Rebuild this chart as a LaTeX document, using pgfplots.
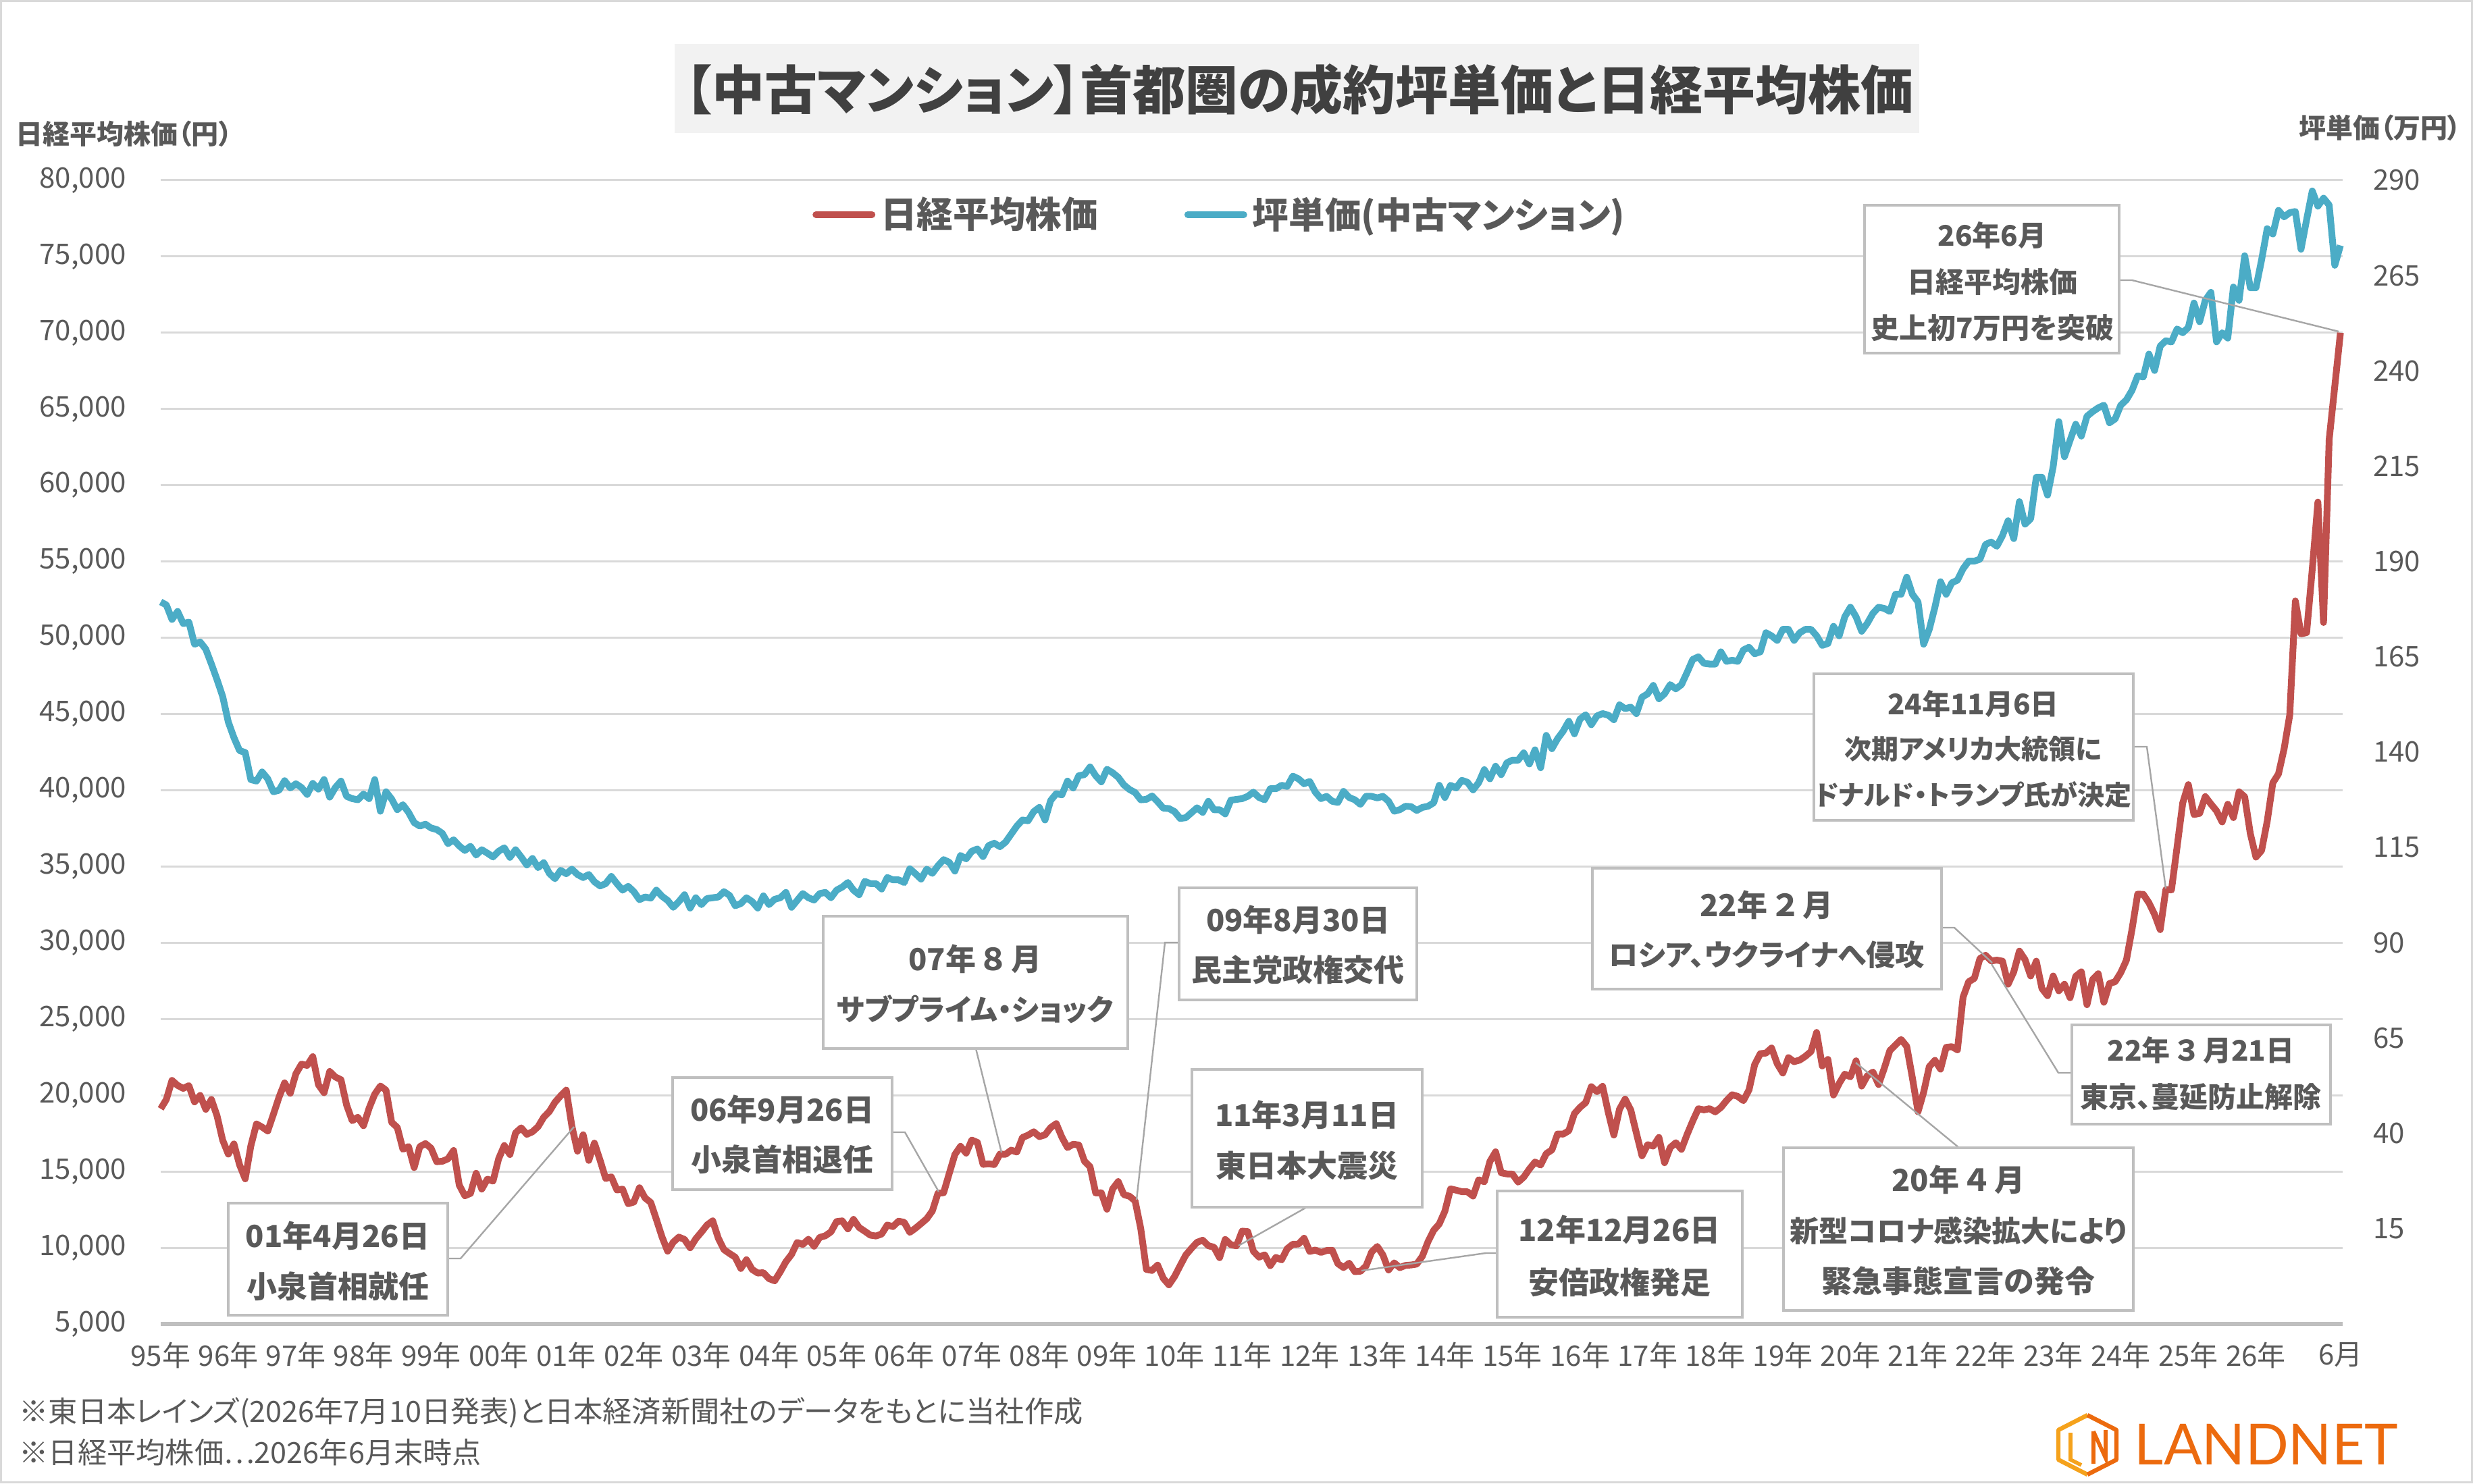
\documentclass[border=0pt]{standalone}
\usepackage{fontspec}
\setmainfont{Noto Sans CJK JP}[RawFeature=+palt]
\newfontfamily\logofont{Lato}
\usepackage{pgfplots}
\pgfplotsset{compat=1.18}
\usepackage{pgfplotstable}
\definecolor{nred}{HTML}{C0504D}
\definecolor{nblue}{HTML}{4BACC6}
\definecolor{txt}{HTML}{595959}
\definecolor{gridc}{HTML}{D9D9D9}
\definecolor{axisgray}{HTML}{BFBFBF}
\definecolor{ttl}{HTML}{404040}
\definecolor{titlebg}{HTML}{F2F2F2}
\definecolor{lead}{HTML}{A6A6A6}
\definecolor{logoorange}{HTML}{EC6A0E}
\definecolor{logoyellow}{HTML}{F5A21C}

% Nikkei month-end closes, index 0 .. 387
\pgfplotstableread[row sep=crcr]{v\\
19112\\19725\\20974\\20644\\20449\\20629\\19564\\19990\\19076\\19723\\
18650\\17053\\16140\\16807\\15437\\14517\\16678\\18117\\17913\\17655\\18744\\19868\\
20813\\20125\\21407\\22041\\21956\\22531\\20693\\20167\\21556\\21197\\21020\\19361\\
18330\\18557\\18003\\19151\\20069\\20605\\20331\\18229\\17888\\16459\\16636\\15259\\
16628\\16831\\16527\\15641\\15671\\15830\\16379\\14108\\13406\\13564\\14884\\13842\\
14499\\14368\\15837\\16702\\16112\\17530\\17862\\17437\\17605\\17942\\18558\\18934\\
19540\\19960\\20337\\17974\\16332\\17411\\15727\\16861\\15747\\14540\\14649\\13786\\
13844\\12884\\12999\\13934\\13262\\12969\\11861\\10714\\9775\\10367\\10697\\10543\\
9998\\10588\\11025\\11493\\11764\\10622\\9878\\9619\\9383\\8640\\9216\\8579\\
8340\\8363\\7973\\7831\\8425\\9083\\9563\\10344\\10219\\10560\\10101\\10677\\
10784\\11042\\11715\\11762\\11236\\11859\\11326\\11082\\10824\\10771\\10899\\11489\\
11388\\11741\\11669\\11009\\11277\\11584\\11900\\12414\\13574\\13607\\14872\\16111\\
16650\\16205\\17060\\16906\\15467\\15505\\15457\\16141\\16128\\16399\\16274\\17226\\
17383\\17604\\17288\\17400\\17876\\18138\\17249\\16569\\16786\\16738\\15681\\15308\\
13592\\13603\\12526\\13850\\14339\\13482\\13377\\13073\\11260\\8577\\8512\\8860\\
7994\\7568\\8110\\8828\\9523\\9958\\10357\\10493\\10133\\10035\\9346\\10546\\
10198\\10126\\11090\\11057\\9769\\9383\\9537\\8824\\9369\\9202\\9937\\10229\\
10238\\10624\\9755\\9850\\9694\\9816\\9833\\8955\\8700\\8988\\8435\\8455\\
8803\\9723\\10084\\9521\\8543\\9007\\8695\\8840\\8870\\8928\\9446\\10395\\
11139\\11559\\12398\\13861\\13775\\13677\\13668\\13389\\14456\\14328\\15662\\16291\\
14915\\14841\\14828\\14304\\14632\\15162\\15621\\15425\\16174\\16414\\17460\\17451\\
17674\\18798\\19207\\19520\\20563\\20236\\20585\\18890\\17388\\19083\\19747\\19034\\
17518\\16027\\16759\\16666\\17235\\15576\\16569\\16887\\16450\\17425\\18308\\19114\\
19041\\19119\\18909\\19197\\19651\\20033\\19925\\19646\\20356\\22012\\22725\\22765\\
23098\\22068\\21454\\22468\\22202\\22305\\22554\\22865\\24120\\21920\\22351\\20015\\
20773\\21385\\21206\\22259\\20601\\21276\\21522\\20704\\21756\\22927\\23294\\23657\\
23205\\21143\\18917\\20194\\21878\\22288\\21710\\23140\\23185\\22977\\26434\\27444\\
27663\\28966\\29179\\28813\\28860\\28792\\27284\\28090\\29453\\28893\\27822\\28792\\
27002\\26527\\27821\\26848\\27280\\26393\\27802\\28092\\25937\\27587\\27969\\26095\\
27327\\27446\\28041\\28856\\30888\\33189\\33172\\32619\\31858\\30859\\33487\\33464\\
36287\\39166\\40369\\38406\\38488\\39583\\39102\\38648\\37920\\39081\\38208\\39895\\
39572\\37156\\35618\\36045\\37965\\40487\\41070\\42718\\44933\\52411\\50254\\50339\\
54500\\58900\\51000\\63000\\66500\\70000\\
}\nikkei

% price per tsubo (10,000 yen), index 0 .. 387
\pgfplotstableread[row sep=crcr]{v\\
179.4\\178.6\\174.8\\176.9\\173.7\\174.1\\168.3\\168.9\\167.0\\163.1\\
159.0\\154.6\\147.9\\143.8\\140.4\\139.9\\132.8\\132.4\\134.8\\133.0\\
129.6\\130.0\\132.5\\130.6\\131.7\\130.7\\128.9\\131.8\\130.3\\132.8\\
128.2\\130.7\\132.4\\128.4\\127.8\\127.5\\129.0\\127.8\\132.8\\124.5\\
129.6\\127.7\\124.9\\126.2\\124.2\\121.5\\120.6\\121.1\\120.1\\119.7\\
118.7\\116.0\\117.0\\115.4\\114.2\\115.3\\113.0\\114.4\\113.5\\112.5\\
114.0\\114.9\\112.4\\114.4\\112.5\\110.4\\112.1\\109.7\\111.0\\108.2\\
106.8\\109.0\\108.1\\109.3\\107.9\\107.1\\107.9\\106.0\\104.9\\105.5\\
107.4\\105.5\\103.8\\104.8\\103.4\\101.3\\102.0\\101.7\\103.8\\102.2\\
101.1\\99.3\\
100.8\\102.6\\99.1\\101.8\\100.0\\101.6\\101.8\\102.0\\103.4\\102.4\\
99.7\\100.3\\101.8\\100.8\\99.1\\102.3\\100.0\\101.4\\101.8\\103.2\\
99.3\\101.1\\102.9\\101.8\\101.2\\102.9\\103.2\\101.8\\103.8\\104.6\\
105.8\\103.8\\102.6\\106.1\\105.5\\105.5\\104.1\\107.1\\106.5\\106.5\\
105.8\\109.4\\108.1\\106.7\\109.3\\108.2\\110.2\\111.8\\111.1\\108.8\\
112.9\\112.0\\114.0\\114.6\\112.6\\115.5\\116.1\\115.2\\116.4\\118.5\\
120.6\\122.2\\122.0\\124.4\\125.5\\122.2\\127.3\\129.1\\128.8\\132.4\\
130.6\\133.8\\134.1\\136.1\\133.8\\132.2\\135.5\\134.6\\133.4\\131.4\\
130.2\\129.4\\127.5\\127.6\\128.5\\127.0\\125.3\\125.2\\124.4\\122.6\\
122.8\\124.1\\125.4\\124.2\\127.1\\124.9\\124.9\\123.8\\127.4\\127.6\\
127.8\\128.4\\129.5\\128.1\\127.5\\130.4\\130.4\\131.3\\131.0\\133.7\\
133.0\\131.7\\132.3\\129.5\\127.8\\128.4\\127.1\\126.8\\129.7\\128.1\\
127.5\\126.3\\128.4\\128.4\\128.0\\128.4\\127.1\\124.5\\124.9\\125.8\\
125.7\\124.7\\125.5\\125.8\\126.7\\131.3\\128.1\\131.3\\130.6\\132.6\\
132.1\\130.1\\132.0\\135.4\\133.0\\136.3\\134.1\\137.2\\137.9\\137.9\\
139.8\\136.9\\140.6\\135.9\\144.4\\140.9\\143.5\\145.5\\148.1\\144.8\\
148.7\\149.8\\147.2\\149.5\\150.1\\149.7\\148.5\\152.4\\151.4\\151.8\\
150.1\\154.4\\155.3\\157.5\\154.0\\155.3\\157.7\\156.6\\157.7\\
160.9\\164.3\\165.0\\163.3\\163.1\\163.1\\166.3\\163.8\\164.1\\163.8\\
166.8\\167.5\\165.8\\166.3\\171.3\\170.5\\169.3\\172.2\\172.2\\169.3\\
171.3\\172.2\\172.2\\170.5\\168.0\\168.5\\173.0\\170.5\\175.5\\178.0\\
175.5\\171.7\\173.8\\176.4\\178.0\\177.7\\176.9\\181.4\\181.4\\185.9\\
181.4\\179.4\\168.3\\172.2\\178.0\\184.7\\181.4\\184.4\\185.1\\188.1\\
190.1\\190.1\\190.6\\194.5\\195.1\\194.0\\196.8\\200.7\\196.0\\205.7\\
199.8\\201.2\\212.1\\212.1\\207.4\\214.9\\
226.7\\217.5\\221.8\\226.0\\222.9\\228.1\\229.3\\230.3\\231.0\\226.4\\
227.4\\231.0\\232.4\\234.9\\238.7\\238.4\\244.4\\240.1\\246.5\\247.9\\
247.6\\251.0\\250.0\\251.4\\257.8\\252.9\\258.5\\260.6\\247.6\\250.0\\
248.6\\262.0\\258.5\\270.2\\261.8\\261.8\\269.1\\277.3\\275.9\\282.1\\
280.4\\281.5\\281.8\\271.9\\279.7\\287.2\\283.2\\285.3\\283.5\\267.7\\
272.9\\
}\tsubo

\tikzset{
  anno/.style={font=\fontsize{11.25}{13}\selectfont\bfseries, text=txt, inner sep=0pt},
  annok/.style={font=\fontsize{10.8}{13}\selectfont\bfseries, text=txt, inner sep=0pt},
  annos/.style={font=\fontsize{10.5}{12}\selectfont\bfseries, text=txt, inner sep=0pt},
  annoxs/.style={font=\fontsize{10}{12}\selectfont\bfseries, text=txt, inner sep=0pt},
  leader/.style={draw=lead, line width=0.6pt},
  abox/.style={draw=axisgray, line width=0.8pt, fill=white},
}

\begin{document}
\begin{tikzpicture}
\path[use as bounding box] (0pt,0pt) rectangle (915.5pt,549.25pt);
\fill[white] (0pt,0pt) rectangle (915.5pt,549.25pt);

\begin{axis}[
  at={(59.5pt,59pt)}, anchor=south west,
  scale only axis, width=807.75pt, height=423.5pt,
  xmin=0, xmax=387.4, ymin=5000, ymax=80000,
  clip=false,
  axis x line*=bottom, axis y line*=left,
  x axis line style={draw=axisgray, line width=1.5pt, -},
  y axis line style={draw=none},
  major tick length=0pt, tick style={draw=none},
  ytick={5000,10000,...,80000},
  ymajorgrids, grid style={draw=gridc, line width=0.75pt},
  scaled y ticks=false,
  /pgf/number format/assume math mode=true,
  yticklabel={\pgfmathprintnumber[1000 sep={,}]{\tick}},
  yticklabel style={font=\fontsize{10.5}{12}\selectfont, text=txt, anchor=east, xshift=-9.25pt},
  xtick={0,12,...,372,387},
  xticklabels={95年,96年,97年,98年,99年,00年,01年,02年,03年,04年,05年,06年,07年,08年,09年,10年,11年,12年,13年,14年,15年,16年,17年,18年,19年,20年,21年,22年,23年,24年,25年,26年,6月},
  xticklabel style={font=\fontsize{10.5}{12}\selectfont, text=txt, anchor=center, yshift=-11.5pt},
  legend style={at={(0.2985,0.9699)}, anchor=west, draw=none, fill=none, inner sep=0pt,
    font=\fontsize{13.4}{15}\selectfont\bfseries, text=txt,
    /tikz/every even column/.append style={column sep=30pt},
    nodes={inner sep=2pt}},
  legend columns=2,
  legend image code/.code={\draw[#1, line width=2.5pt, line cap=round] (1.25pt,0pt) -- (22pt,0pt);},
]
\addplot[nred, line width=2.5pt, line join=round, mark=none] table[x expr=\coordindex, y=v] {\nikkei};
\addlegendentry{日経平均株価}
\addlegendimage{nblue, line width=2.5pt}
\addlegendentry{坪単価(中古マンション)}
\end{axis}

\begin{axis}[
  at={(59.5pt,59pt)}, anchor=south west,
  scale only axis, width=807.75pt, height=423.5pt,
  xmin=0, xmax=387.4, ymin=-10, ymax=290,
  clip=false,
  axis x line=none, axis y line*=right,
  y axis line style={draw=none},
  xtick=\empty,
  major tick length=0pt, tick style={draw=none},
  ytick={15,40,...,290},
  /pgf/number format/assume math mode=true,
  yticklabel style={font=\fontsize{10.5}{12}\selectfont, text=txt, anchor=west, xshift=7.75pt},
]
\addplot[nblue, line width=2.5pt, line join=round, mark=none] table[x expr=\coordindex, y=v] {\tsubo};
\end{axis}

\begin{scope}[shift={(0pt,549.25pt)}, x=0.25pt, y=-0.25pt]
% outer frame
\draw[gridc, line width=0.75pt] (1.5,1.5) rectangle (3660.5,2195.5);
% title
\fill[titlebg] (999,65) rectangle (2842,197);
\node[font=\fontsize{19.5}{22}\selectfont\bfseries, text=ttl, inner sep=0pt] at (1924,133) {【中古マンション】首都圏の成約坪単価と日経平均株価};
% axis titles
\node[font=\fontsize{10}{12}\selectfont\bfseries, text=txt, anchor=west, inner sep=0pt] at (23,198) {日経平均株価（円）};
\node[font=\fontsize{10}{12}\selectfont\bfseries, text=txt, anchor=east, inner sep=0pt] at (3645,189) {坪単価（万円）};

% leaders
\draw[leader] (663,1864) -- (682,1864) -- (850,1669);
\draw[leader] (1321,1677) -- (1340,1677) -- (1390,1765);
\draw[leader] (1445,1553) -- (1483,1707);
\draw[leader] (1746,1396) -- (1725,1396) -- (1683,1777);
\draw[leader] (1935,1788) -- (1834,1845);
\draw[leader] (2217,1856) -- (2200,1856) -- (2016,1882);
\draw[leader] (2901,1700) -- (2748,1574);
\draw[leader] (2875,1374) -- (2894,1374) -- (2950,1426);
\draw[leader] (3068,1589) -- (3048,1589) -- (2949,1428);
\draw[leader] (3159,1106) -- (3179,1106) -- (3207,1316);
\draw[leader] (3138,415) -- (3157,415) -- (3463,491);

% boxes
\draw[abox] (338,1782) rectangle (663,1948);
\node[anno] at (500,1830) {01年4月26日};
\node[anno] at (500,1905) {小泉首相就任};

\draw[abox] (996,1596) rectangle (1321,1762);
\node[anno] at (1158,1643) {06年9月26日};
\node[anno] at (1158,1717) {小泉首相退任};

\draw[abox] (1219,1357) rectangle (1670,1553);
\node[anno] at (1444,1420) {07年\hspace{0.2em}８\hspace{0.2em}月};
\node[annok] at (1444,1495) {サブプライム・ショック};

\draw[abox] (1746,1315) rectangle (2098,1481);
\node[anno] at (1922,1362) {09年8月30日};
\node[anno] at (1922,1436) {民主党政権交代};

\draw[abox] (1765,1584) rectangle (2106,1788);
\node[anno] at (1935,1651) {11年3月11日};
\node[anno] at (1935,1727) {東日本大震災};

\draw[abox] (2217,1764) rectangle (2580,1951);
\node[anno] at (2398,1821) {12年12月26日};
\node[anno] at (2398,1899) {安倍政権発足};

\draw[abox] (2641,1700) rectangle (3159,1941);
\node[anno] at (2900,1747) {20年\hspace{0.2em}４\hspace{0.2em}月};
\node[annok] at (2900,1823) {新型コロナ感染拡大により};
\node[anno] at (2900,1897) {緊急事態宣言の発令};

\draw[abox] (2358,1286) rectangle (2875,1465);
\node[anno] at (2616,1340) {22年\hspace{0.2em}２\hspace{0.2em}月};
\node[annok] at (2616,1414) {ロシア、ウクライナへ侵攻};

\draw[abox] (3068,1518) rectangle (3451,1665);
\node[annos] at (3259,1555) {22年\hspace{0.2em}３\hspace{0.2em}月21日};
\node[annos] at (3259,1625) {東京、蔓延防止解除};

\draw[abox] (2686,998) rectangle (3159,1215);
\node[annos] at (2922,1042) {24年11月6日};
\node[annoxs] at (2922,1109) {次期アメリカ大統領に};
\node[annoxs] at (2922,1177) {ドナルド・トランプ氏が決定};

\draw[abox] (2761,304) rectangle (3138,523);
\node[annos] at (2950,348) {26年6月};
\node[annos] at (2950,418) {日経平均株価};
\node[annos] at (2950,486) {史上初7万円を突破};

% footnotes
\node[font=\fontsize{10.8}{12}\selectfont, text=txt, anchor=west, inner sep=0pt] at (28,2092) {※東日本レインズ(2026年7月10日発表)と日本経済新聞社のデータをもとに当社作成};
\node[font=\fontsize{10.8}{12}\selectfont, text=txt, anchor=west, inner sep=0pt] at (28,2151) {※日経平均株価…2026年6月末時点};

% logo
\draw[logoyellow, line width=1.6pt, line join=round] (3091,2096) -- (3048,2118) -- (3048,2162) -- (3091,2184);
\draw[logoorange, line width=1.6pt, line join=round] (3091,2096) -- (3134,2118) -- (3134,2162) -- (3091,2184);
\draw[logoyellow, line width=1.4pt] (3066,2122) -- (3066,2162) -- (3082,2170);
\draw[logoorange, line width=1.4pt] (3100,2120) -- (3100,2168) (3100,2120) -- (3118,2160) -- (3118,2118);
\node[font=\logofont\fontsize{21}{24}\selectfont, text=logoorange, anchor=west, inner sep=0pt] at (3160,2139) {LANDNET};
\end{scope}
\end{tikzpicture}
\end{document}
